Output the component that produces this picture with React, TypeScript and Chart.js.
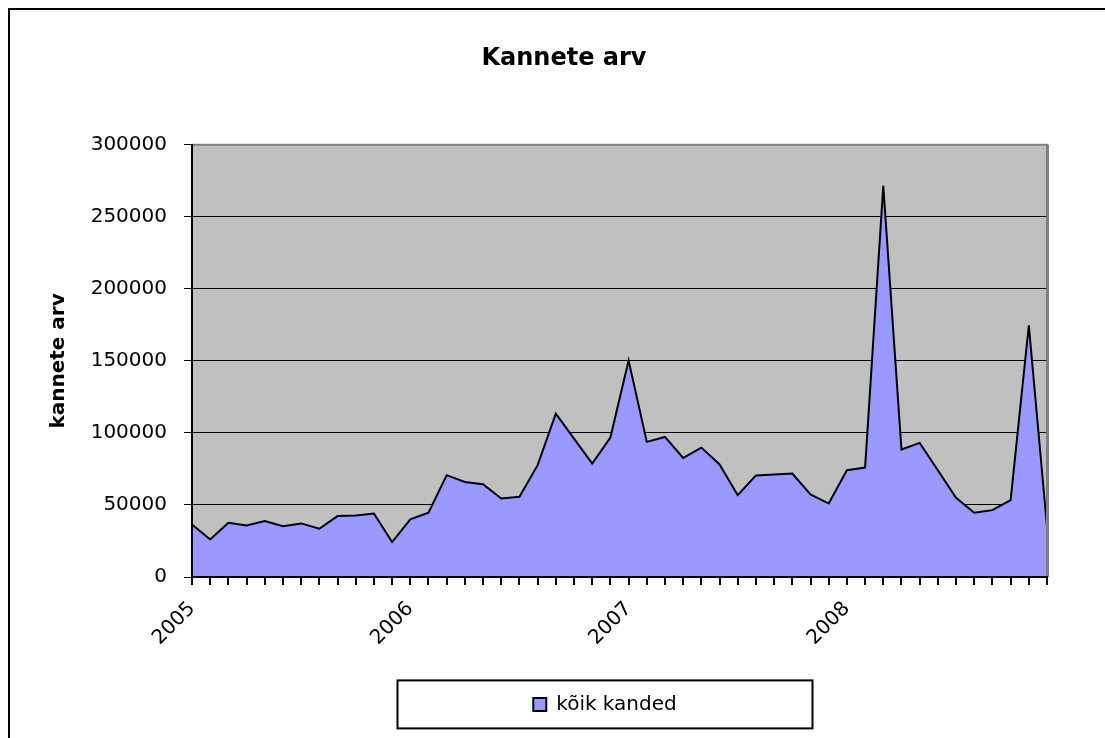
import React, { useEffect, useRef } from "react";
import { Chart, registerables } from "chart.js";

Chart.register(...registerables);

const years = ["2005", "2006", "2007", "2008"];
const monthNums = ["01", "02", "03", "04", "05", "06", "07", "08", "09", "10", "11", "12"];
const categories: string[] = [];
years.forEach((y) => monthNums.forEach((m) => categories.push(y + "-" + m)));

const values2005 = [36500, 26100, 37600, 35800, 38800, 35300, 37200, 33500, 42300, 42700, 44100, 24200];
const values2006 = [40000, 44600, 70700, 66000, 64400, 54500, 55700, 77600, 113400, 96100, 78800, 96800];
const values2007 = [150300, 93800, 97200, 82700, 89800, 78100, 56800, 70500, 71100, 71800, 57300, 51000];
const values2008 = [74100, 76000, 271600, 88500, 93100, 74100, 55000, 44600, 46400, 53300, 174600, 34900];
const seriesValues = [...values2005, ...values2006, ...values2007, ...values2008];

const yTicks = [0, 50000, 100000, 150000, 200000, 250000, 300000];

const chartTitle = "Kannete arv";
const yTitle = "kannete arv";
const seriesLabel = "kõik kanded";

const FONT = "'DejaVu Sans', sans-serif";

const decorPlugin = {
  id: "decor",
  afterLayout(chart: any) {
    const lg = chart.legend;
    if (lg) {
      const cur = (lg.left + lg.right) / 2;
      const shift = 605 - cur;
      lg.left += shift;
      lg.right += shift;
      if (lg.legendHitBoxes) lg.legendHitBoxes.forEach((b: any) => (b.left += shift));
    }
    const tb = chart.titleBlock;
    if (tb) {
      const cur = (tb.left + tb.right) / 2;
      const shift = 564 - cur;
      tb.left += shift;
      tb.right += shift;
    }
  },
  beforeDraw(chart: any) {
    const { ctx, chartArea } = chart;
    ctx.save();
    ctx.fillStyle = "#C0C0C0";
    ctx.fillRect(chartArea.left, chartArea.top, chartArea.right - chartArea.left, chartArea.bottom - chartArea.top);
    ctx.restore();
  },
  afterDatasetsDraw(chart: any) {
    const { ctx, chartArea } = chart;
    ctx.save();
    ctx.strokeStyle = "#808080";
    ctx.lineWidth = 2;
    ctx.beginPath();
    ctx.moveTo(chartArea.left, chartArea.top);
    ctx.lineTo(chartArea.right + 1, chartArea.top);
    ctx.stroke();
    ctx.lineWidth = 3;
    ctx.beginPath();
    ctx.moveTo(chartArea.right + 0.5, chartArea.top);
    ctx.lineTo(chartArea.right + 0.5, chartArea.bottom);
    ctx.stroke();
    ctx.restore();
  },
  afterDraw(chart: any) {
    const { ctx } = chart;
    ctx.save();
    ctx.strokeStyle = "#000";
    ctx.lineWidth = 2;
    ctx.strokeRect(9, 9, 1300, 1000);
    const lg = chart.legend;
    if (lg) {
      const cx = (lg.left + lg.right) / 2;
      const cy = lg.top + lg.height / 2;
      ctx.strokeRect(cx - 207.5, cy - 24, 415, 48);
    }
    ctx.restore();
  },
};

export default function App() {
  const ref = useRef<HTMLCanvasElement | null>(null);
  useEffect(() => {
    if (!ref.current) return;
    const chart = new Chart(ref.current, {
      type: "line",
      data: {
        labels: categories,
        datasets: [
          {
            label: seriesLabel,
            data: seriesValues,
            borderColor: "#000000",
            borderWidth: 2,
            backgroundColor: "#9999FF",
            fill: "origin",
            pointRadius: 0,
            tension: 0,
          },
        ],
      },
      options: {
        responsive: false,
        animation: false,
        color: "#000",
        layout: { padding: { left: 40, right: 58, top: 44.5, bottom: 13.6 } },
        plugins: {
          title: {
            display: true,
            text: chartTitle,
            color: "#000",
            font: { family: FONT, size: 24, weight: "bold", lineHeight: 1.2 },
            padding: { top: 0, bottom: 71.5 },
          },
          legend: {
            display: true,
            position: "bottom",
            labels: {
              color: "#000",
              font: { family: FONT, size: 20 },
              boxWidth: 13,
              boxHeight: 13,
              padding: 10,
            },
          },
          tooltip: { enabled: false },
        },
        scales: {
          x: {
            type: "category",
            offset: false,
            afterFit(scale: any) {
              scale.height = 107.4;
            },
            grid: {
              drawOnChartArea: false,
              drawTicks: true,
              tickLength: 8,
              tickWidth: 2,
              tickColor: "#000",
              color: "#000",
              lineWidth: 2,
            },
            border: { display: true, color: "#000", width: 2, z: 1 },
            ticks: {
              autoSkip: false,
              minRotation: 45,
              maxRotation: 45,
              padding: 12,
              color: "#000",
              font: { family: FONT, size: 20 },
              callback(this: any, val: any) {
                const lab = String(this.getLabelForValue(val));
                return lab.endsWith("-01") ? lab.slice(0, 4) : "";
              },
            },
          },
          y: {
            min: 0,
            max: 300000,
            afterFit(scale: any) {
              scale.width = 152;
            },
            afterBuildTicks(scale: any) {
              scale.ticks = yTicks.map((v) => ({ value: v }));
            },
            grid: {
              color: "#000",
              lineWidth: 1,
              tickLength: 8,
              tickColor: "#000",
              tickWidth: 1,
            },
            border: { display: true, color: "#000", width: 2, z: 1 },
            ticks: {
              padding: 17,
              color: "#000",
              font: { family: FONT, size: 20 },
              callback: (v: any) => String(v),
            },
            title: {
              display: true,
              text: yTitle,
              color: "#000",
              font: { family: FONT, size: 20, weight: "bold", lineHeight: 1.2 },
              padding: { top: 7, bottom: 0 },
            },
          },
        },
      },
      plugins: [decorPlugin],
    });
    return () => chart.destroy();
  }, []);
  return (
    <div style={{ position: "absolute", left: 0, top: 0, width: 1105, height: 738, background: "#fff" }}>
      <canvas ref={ref} width={1105} height={738} style={{ width: 1105, height: 738, display: "block" }} />
    </div>
  );
}
